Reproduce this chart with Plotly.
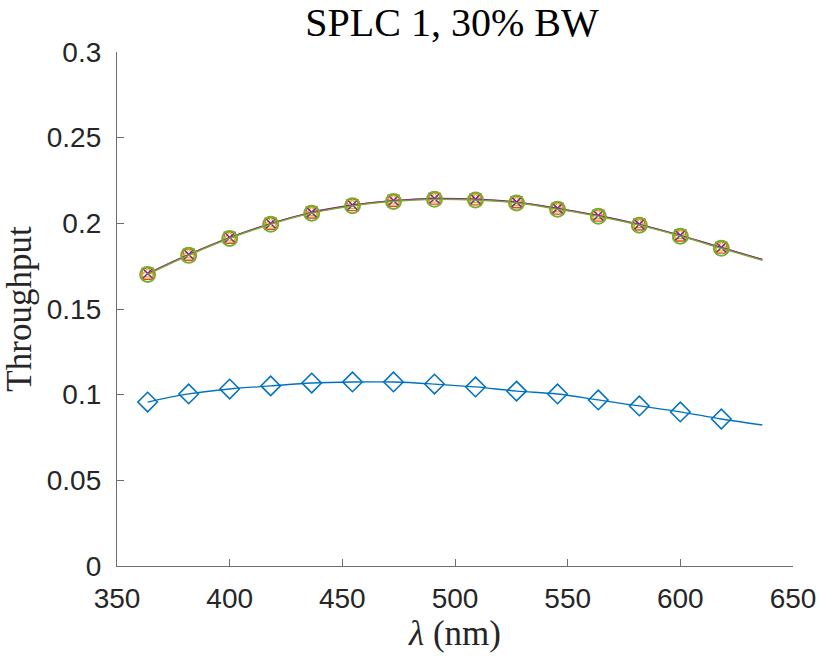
import plotly.graph_objects as go

# wavelength samples (nm); last point ends the line only (no marker)
wavelength = [363.6, 381.8, 400.0, 418.2, 436.4, 454.5, 472.7, 490.9, 509.1,
              527.3, 545.5, 563.6, 581.8, 600.0, 618.2, 636.4]

series_1 = [0.0957, 0.1004, 0.1033, 0.1051, 0.1068, 0.1074, 0.1074, 0.1062, 0.1045,
            0.1021, 0.1004, 0.0969, 0.0934, 0.0899, 0.0858, 0.0823]
series_2 = [0.1706, 0.1817, 0.1916, 0.1998, 0.2063, 0.2106, 0.2132, 0.2144, 0.2140,
            0.2123, 0.2086, 0.2045, 0.1993, 0.1929, 0.1858, 0.1788]
series_3 = [0.1705, 0.1816, 0.1915, 0.1997, 0.2062, 0.2105, 0.2131, 0.2143, 0.2139,
            0.2122, 0.2085, 0.2044, 0.1992, 0.1928, 0.1857, 0.1787]
series_4 = [0.1707, 0.1818, 0.1917, 0.1999, 0.2064, 0.2107, 0.2133, 0.2145, 0.2141,
            0.2124, 0.2087, 0.2046, 0.1994, 0.1930, 0.1859, 0.1789]
series_5 = [0.1702, 0.1813, 0.1912, 0.1994, 0.2059, 0.2102, 0.2128, 0.2140, 0.2136,
            0.2119, 0.2082, 0.2041, 0.1989, 0.1925, 0.1854, 0.1784]

x_ticks = [350, 400, 450, 500, 550, 600, 650]
y_ticks = [0, 0.05, 0.1, 0.15, 0.2, 0.25, 0.3]
y_tick_text = ["0", "0.05", "0.1", "0.15", "0.2", "0.25", "0.3"]

styles = [
    (series_1, "#0072BD", "diamond-open", 15, 1.6),
    (series_2, "#D95319", "square-open", 11, 1.4),
    (series_3, "#EDB120", "triangle-up-open", 12, 1.4),
    (series_4, "#7E2F8E", "x-thin-open", 10, 1.6),
    (series_5, "#77AC30", "circle-open", 15, 2.0),
]

fig = go.Figure()
for i, (vals, color, sym, size, lw) in enumerate(styles):
    fig.add_trace(go.Scatter(
        x=wavelength, y=vals, mode="lines",
        line=dict(color=color, width=1.3, shape="spline"),
        showlegend=False, hoverinfo="skip"))
    fig.add_trace(go.Scatter(
        x=wavelength[:-1], y=vals[:-1], mode="markers",
        marker=dict(symbol=sym, size=size, color=color,
                    line=dict(color=color, width=lw)),
        showlegend=False, name=f"Series {i+1}"))

axis_color = "#6e6e6e"
tick_font = dict(family="Liberation Sans", size=28, color="#262626")
label_font = dict(family="Liberation Serif", size=35, color="#262626")

fig.update_layout(
    width=821, height=659,
    margin=dict(l=117, r=28, t=52, b=93),
    paper_bgcolor="white", plot_bgcolor="white",
    title=dict(text="SPLC 1, 30% BW", x=452 / 821,
               xanchor="center", y=1 - 22 / 659, yanchor="middle",
               font=dict(family="Liberation Serif", size=40, color="black")),
    xaxis=dict(range=[350, 650], tickvals=x_ticks, ticks="inside", ticklen=7,
               tickcolor=axis_color, showline=True, linecolor=axis_color, linewidth=1.3,
               showgrid=False, zeroline=False, ticklabelstandoff=7, automargin=False,
               tickfont=tick_font,
               title=dict(text="<i>λ</i> (nm)", standoff=2, font=label_font)),
    yaxis=dict(range=[0, 0.3], tickvals=y_ticks, ticktext=y_tick_text, ticks="inside",
               ticklen=7, tickcolor=axis_color, showline=True, linecolor=axis_color,
               linewidth=1.3, showgrid=False, zeroline=False, ticklabelstandoff=9,
               automargin=False, tickfont=tick_font,
               title=dict(text="Throughput", standoff=4, font=label_font)),
)

fig.write_html("out.html")
